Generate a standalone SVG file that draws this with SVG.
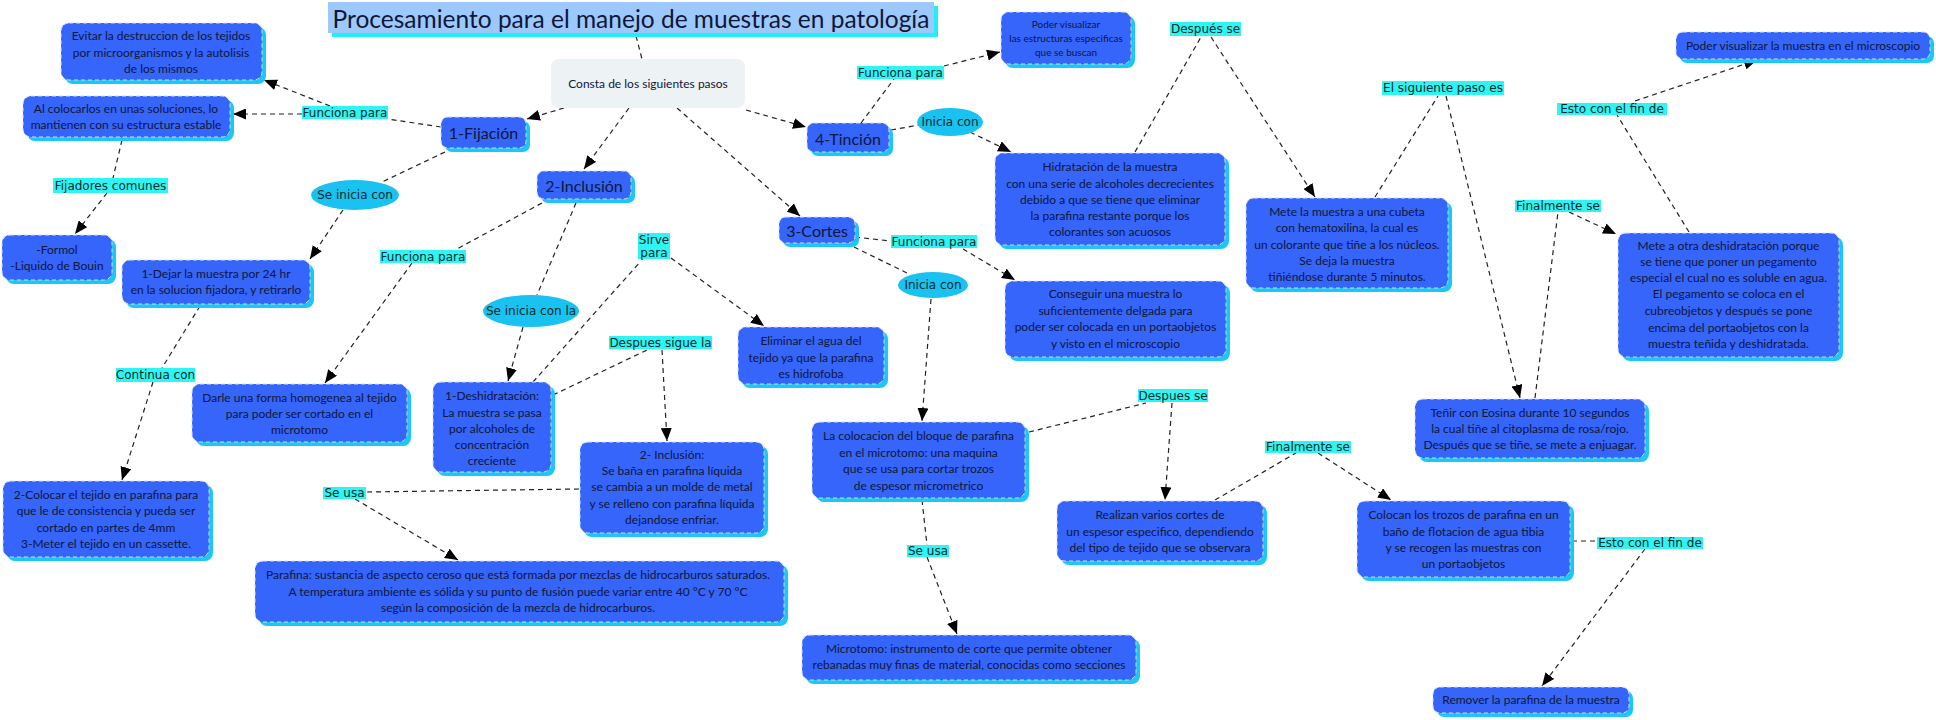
<svg xmlns="http://www.w3.org/2000/svg" width="1936" height="720" viewBox="0 0 1936 720">
<style>
.sh{fill:#1cc6f6}
.bx{fill:#3565fb;stroke:#d4defc;stroke-width:1;stroke-dasharray:4,3}
.t{font-family:Lato,"Open Sans",sans-serif;font-size:12px;fill:#0f1738;text-anchor:middle;dominant-baseline:central}
.ts{font-size:10px}
.th{font-size:16px}
.lb{fill:#2ef5f3}
.lt{font-family:"DejaVu Sans",Verdana,sans-serif;font-size:12px;fill:#062a2a;text-anchor:middle;dominant-baseline:central}
.el{fill:#19c2f0}
.c line{stroke:#222;stroke-width:1.2;stroke-dasharray:5,4;fill:none}
.c line.a{marker-end:url(#ah)}
</style>
<defs>
<marker id="ah" markerUnits="userSpaceOnUse" markerWidth="13" markerHeight="11" refX="13" refY="5.5" orient="auto">
<path d="M0,0 L13,5.5 L0,11 z" fill="#000"/>
</marker>
</defs>
<rect width="1936" height="720" fill="#fff"/>

<g id="connectors" class="c">
<line x1="636" y1="36" x2="642" y2="59"/>
<line class="a" x1="564" y1="108" x2="527" y2="119"/>
<line class="a" x1="629" y1="108" x2="584" y2="169"/>
<line class="a" x1="677" y1="108" x2="800" y2="216"/>
<line class="a" x1="746" y1="110" x2="806" y2="127"/>
<line x1="441" y1="127" x2="388" y2="119"/>
<line class="a" x1="302" y1="114" x2="233" y2="114"/>
<line class="a" x1="330" y1="106" x2="264" y2="80"/>
<line x1="122" y1="140" x2="113" y2="178"/>
<line class="a" x1="107" y1="193" x2="75" y2="234"/>
<line x1="445" y1="152" x2="382" y2="182"/>
<line class="a" x1="343" y1="210" x2="310" y2="259"/>
<line x1="200" y1="306" x2="162" y2="368"/>
<line class="a" x1="153" y1="382" x2="122" y2="480"/>
<line x1="542" y1="203" x2="455" y2="250"/>
<line class="a" x1="412" y1="263" x2="325" y2="383"/>
<line x1="576" y1="203" x2="537" y2="295"/>
<line class="a" x1="523" y1="327" x2="508" y2="381"/>
<line x1="533" y1="382" x2="641" y2="261"/>
<line class="a" x1="671" y1="258" x2="764" y2="326"/>
<line x1="553" y1="395" x2="647" y2="350"/>
<line class="a" x1="662" y1="350" x2="667" y2="441"/>
<line x1="579" y1="489" x2="366" y2="492"/>
<line class="a" x1="355" y1="499" x2="458" y2="560"/>
<line x1="855" y1="237" x2="891" y2="241"/>
<line class="a" x1="963" y1="249" x2="1015" y2="280"/>
<line x1="854" y1="247" x2="907" y2="273"/>
<line class="a" x1="931" y1="299" x2="922" y2="421"/>
<line x1="1029" y1="432" x2="1146" y2="403"/>
<line class="a" x1="1172" y1="403" x2="1165" y2="500"/>
<line x1="922" y1="500" x2="927" y2="545"/>
<line class="a" x1="927" y1="557" x2="957" y2="634"/>
<line x1="1215" y1="500" x2="1296" y2="453"/>
<line class="a" x1="1318" y1="453" x2="1391" y2="500"/>
<line x1="1572" y1="541" x2="1597" y2="541"/>
<line class="a" x1="1645" y1="549" x2="1542" y2="686"/>
<line x1="861" y1="123" x2="894" y2="79"/>
<line class="a" x1="944" y1="66" x2="1000" y2="52"/>
<line x1="891" y1="130" x2="919" y2="125"/>
<line class="a" x1="970" y1="132" x2="1011" y2="152"/>
<line x1="1135" y1="152" x2="1201" y2="37"/>
<line class="a" x1="1211" y1="37" x2="1315" y2="197"/>
<line x1="1375" y1="197" x2="1438" y2="96"/>
<line class="a" x1="1446" y1="96" x2="1520" y2="398"/>
<line x1="1535" y1="398" x2="1558" y2="212"/>
<line class="a" x1="1569" y1="212" x2="1616" y2="234"/>
<line x1="1689" y1="232" x2="1617" y2="115"/>
<line class="a" x1="1635" y1="101" x2="1757" y2="60"/>
</g>

<g id="title">
<rect x="332" y="6" width="606" height="31" fill="#1ff0f5"/>
<rect x="328" y="2" width="606" height="31" fill="#9cc8fb"/>
<text x="631" y="18" class="t" style="font-size:24.5px">Procesamiento para el manejo de muestras en patología</text>
</g>

<g id="consta">
<rect x="551" y="59" width="194" height="49" rx="8" fill="#edf2f5"/>
<text x="648" y="83" class="t">Consta de los siguientes pasos</text>
</g>

<g id="evitar">
<rect class="sh" x="65" y="27" width="201" height="57" rx="8"/>
<rect class="bx" x="61" y="23" width="201" height="57" rx="8"/>
<text class="t"><tspan x="161" y="35">Evitar la destruccion de los tejidos</tspan><tspan x="161" y="52">por microorganismos y la autolisis</tspan><tspan x="161" y="68">de los mismos</tspan></text>
</g>

<g id="colocarlos">
<rect class="sh" x="27" y="100" width="207" height="41" rx="8"/>
<rect class="bx" x="23" y="96" width="207" height="41" rx="8"/>
<text class="t"><tspan x="126" y="108">Al colocarlos en unas soluciones, lo</tspan><tspan x="126" y="124">mantienen con su estructura estable</tspan></text>
</g>

<g id="fijacion">
<rect class="sh" x="445" y="121" width="85" height="31" rx="7"/>
<rect class="bx" x="441" y="117" width="85" height="31" rx="7"/>
<text x="483.5" y="132.5" class="t th">1-Fijación</text>
</g>

<g id="formol">
<rect class="sh" x="6" y="239" width="110" height="45" rx="8"/>
<rect class="bx" x="2" y="235" width="110" height="45" rx="8"/>
<text class="t"><tspan x="57" y="249">-Formol</tspan><tspan x="57" y="265">-Liquido de Bouin</tspan></text>
</g>

<g id="dejar">
<rect class="sh" x="126" y="264" width="188" height="44" rx="8"/>
<rect class="bx" x="122" y="260" width="188" height="44" rx="8"/>
<text class="t"><tspan x="216" y="273">1-Dejar la muestra por 24 hr</tspan><tspan x="216" y="289">en la solucion fijadora, y retirarlo</tspan></text>
</g>

<g id="darle">
<rect class="sh" x="196" y="388" width="215" height="58" rx="8"/>
<rect class="bx" x="192" y="384" width="215" height="58" rx="8"/>
<text class="t"><tspan x="299.5" y="397">Darle una forma homogenea al tejido</tspan><tspan x="299.5" y="413">para poder ser cortado en el</tspan><tspan x="299.5" y="429">microtomo</tspan></text>
</g>

<g id="deshidratacion">
<rect class="sh" x="437" y="386" width="118" height="90" rx="8"/>
<rect class="bx" x="433" y="382" width="118" height="90" rx="8"/>
<text class="t"><tspan x="492" y="395">1-Deshidratación:</tspan><tspan x="492" y="412">La muestra se pasa</tspan><tspan x="492" y="428">por alcoholes de</tspan><tspan x="492" y="444">concentración</tspan><tspan x="492" y="460">creciente</tspan></text>
</g>

<g id="colocar">
<rect class="sh" x="7" y="485" width="206" height="76" rx="8"/>
<rect class="bx" x="3" y="481" width="206" height="76" rx="8"/>
<text class="t"><tspan x="106" y="494">2-Colocar el tejido en parafina para</tspan><tspan x="106" y="510">que le de consistencia y pueda ser</tspan><tspan x="106" y="527">cortado en partes de 4mm</tspan><tspan x="106" y="543">3-Meter el tejido en un cassette.</tspan></text>
</g>

<g id="parafina">
<rect class="sh" x="259" y="565" width="529" height="61" rx="8"/>
<rect class="bx" x="255" y="561" width="529" height="61" rx="8"/>
<text class="t"><tspan x="518" y="574">Parafina: sustancia de aspecto ceroso que está formada por mezclas de hidrocarburos saturados.</tspan><tspan x="518" y="591">A temperatura ambiente es sólida y su punto de fusión puede variar entre 40 °C y 70 °C</tspan><tspan x="518" y="607">según la composición de la mezcla de hidrocarburos.</tspan></text>
</g>

<g id="inclusion">
<rect class="sh" x="541" y="175" width="94" height="28" rx="7"/>
<rect class="bx" x="537" y="171" width="94" height="28" rx="7"/>
<text x="584" y="185" class="t th">2-Inclusión</text>
</g>

<g id="cortes">
<rect class="sh" x="783" y="221" width="76" height="26" rx="7"/>
<rect class="bx" x="779" y="217" width="76" height="26" rx="7"/>
<text x="817" y="230" class="t th">3-Cortes</text>
</g>

<g id="tincion">
<rect class="sh" x="811" y="127" width="82" height="29" rx="7"/>
<rect class="bx" x="807" y="123" width="82" height="29" rx="7"/>
<text x="848" y="138" class="t th">4-Tinción</text>
</g>

<g id="eliminar">
<rect class="sh" x="742" y="331" width="146" height="57" rx="8"/>
<rect class="bx" x="738" y="327" width="146" height="57" rx="8"/>
<text class="t"><tspan x="811" y="340">Eliminar el agua del</tspan><tspan x="811" y="357">tejido ya que la parafina</tspan><tspan x="811" y="373">es hidrofoba</tspan></text>
</g>

<g id="inclusion2">
<rect class="sh" x="584" y="446" width="184" height="91" rx="8"/>
<rect class="bx" x="580" y="442" width="184" height="91" rx="8"/>
<text class="t"><tspan x="672" y="454">2- Inclusión:</tspan><tspan x="672" y="470">Se baña en parafina líquida</tspan><tspan x="672" y="486">se cambia a un molde de metal</tspan><tspan x="672" y="503">y se relleno con parafina líquida</tspan><tspan x="672" y="519">dejandose enfriar.</tspan></text>
</g>

<g id="colocacion">
<rect class="sh" x="816" y="426" width="213" height="76" rx="8"/>
<rect class="bx" x="812" y="422" width="213" height="76" rx="8"/>
<text class="t"><tspan x="918.5" y="435">La colocacion del bloque de parafina</tspan><tspan x="918.5" y="452">en el microtomo: una maquina</tspan><tspan x="918.5" y="468">que se usa para cortar trozos</tspan><tspan x="918.5" y="485">de espesor micrometrico</tspan></text>
</g>

<g id="poder1">
<rect class="sh" x="1005" y="16" width="130" height="52" rx="8"/>
<rect class="bx" x="1001" y="12" width="130" height="52" rx="8"/>
<text class="t ts"><tspan x="1066" y="24">Poder visualizar</tspan><tspan x="1066" y="38">las estructuras especificas</tspan><tspan x="1066" y="52">que se buscan</tspan></text>
</g>

<g id="hidratacion">
<rect class="sh" x="999" y="157" width="230" height="92" rx="8"/>
<rect class="bx" x="995" y="153" width="230" height="92" rx="8"/>
<text class="t"><tspan x="1110" y="166">Hidratación de la muestra</tspan><tspan x="1110" y="183">con una serie de alcoholes decrecientes</tspan><tspan x="1110" y="199">debido a que se tiene que eliminar</tspan><tspan x="1110" y="215">la parafina restante porque los</tspan><tspan x="1110" y="231">colorantes son acuosos</tspan></text>
</g>

<g id="mete">
<rect class="sh" x="1250" y="202" width="202" height="90" rx="8"/>
<rect class="bx" x="1246" y="198" width="202" height="90" rx="8"/>
<text class="t"><tspan x="1347" y="211">Mete la muestra a una cubeta</tspan><tspan x="1347" y="227">con hematoxilina, la cual es</tspan><tspan x="1347" y="244">un colorante que tiñe a los núcleos.</tspan><tspan x="1347" y="260">Se deja la muestra</tspan><tspan x="1347" y="276">tiñiéndose durante 5 minutos.</tspan></text>
</g>

<g id="conseguir">
<rect class="sh" x="1009" y="285" width="221" height="76" rx="8"/>
<rect class="bx" x="1005" y="281" width="221" height="76" rx="8"/>
<text class="t"><tspan x="1115.5" y="293">Conseguir una muestra lo</tspan><tspan x="1115.5" y="310">suficientemente delgada para</tspan><tspan x="1115.5" y="326">poder ser colocada en un portaobjetos</tspan><tspan x="1115.5" y="343">y visto en el microscopio</tspan></text>
</g>

<g id="realizan">
<rect class="sh" x="1061" y="505" width="206" height="60" rx="8"/>
<rect class="bx" x="1057" y="501" width="206" height="60" rx="8"/>
<text class="t"><tspan x="1160" y="514">Realizan varios cortes de</tspan><tspan x="1160" y="531">un espesor especifico, dependiendo</tspan><tspan x="1160" y="547">del tipo de tejido que se observara</tspan></text>
</g>

<g id="colocan">
<rect class="sh" x="1361" y="505" width="213" height="76" rx="8"/>
<rect class="bx" x="1357" y="501" width="213" height="76" rx="8"/>
<text class="t"><tspan x="1463.5" y="514">Colocan los trozos de parafina en un</tspan><tspan x="1463.5" y="531">baño de flotacion de agua tibia</tspan><tspan x="1463.5" y="547">y se recogen las muestras con</tspan><tspan x="1463.5" y="563">un portaobjetos</tspan></text>
</g>

<g id="microtomo">
<rect class="sh" x="806" y="639" width="334" height="45" rx="8"/>
<rect class="bx" x="802" y="635" width="334" height="45" rx="8"/>
<text class="t"><tspan x="969" y="648">Microtomo: instrumento de corte que permite obtener</tspan><tspan x="969" y="664">rebanadas muy finas de material, conocidas como secciones</tspan></text>
</g>

<g id="remover">
<rect class="sh" x="1437" y="691" width="196" height="26" rx="7"/>
<rect class="bx" x="1433" y="687" width="196" height="26" rx="7"/>
<text x="1531" y="699.5" class="t">Remover la parafina de la muestra</text>
</g>

<g id="tenir">
<rect class="sh" x="1419" y="403" width="230" height="59" rx="8"/>
<rect class="bx" x="1415" y="399" width="230" height="59" rx="8"/>
<text class="t"><tspan x="1530" y="412">Teñir con Eosina durante 10 segundos</tspan><tspan x="1530" y="428">la cual tiñe al citoplasma de rosa/rojo.</tspan><tspan x="1530" y="444">Después que se tiñe, se mete a enjuagar.</tspan></text>
</g>

<g id="meteotra">
<rect class="sh" x="1622" y="237" width="221" height="124" rx="8"/>
<rect class="bx" x="1618" y="233" width="221" height="124" rx="8"/>
<text class="t"><tspan x="1728.5" y="245">Mete a otra deshidratación porque</tspan><tspan x="1728.5" y="261">se tiene que poner un pegamento</tspan><tspan x="1728.5" y="277">especial el cual no es soluble en agua.</tspan><tspan x="1728.5" y="293">El pegamento se coloca en el</tspan><tspan x="1728.5" y="310">cubreobjetos y después se pone</tspan><tspan x="1728.5" y="327">encima del portaobjetos con la</tspan><tspan x="1728.5" y="343">muestra teñida y deshidratada.</tspan></text>
</g>

<g id="poder2">
<rect class="sh" x="1680" y="36" width="254" height="27" rx="7"/>
<rect class="bx" x="1676" y="32" width="254" height="27" rx="7"/>
<text x="1803" y="45" class="t">Poder visualizar la muestra en el microscopio</text>
</g>

<g id="lbl-funciona1"><rect class="lb" x="302" y="106" width="86" height="13"/><text x="345" y="112.5" class="lt">Funciona para</text></g>
<g id="lbl-fijadores"><rect class="lb" x="53" y="178" width="115" height="15"/><text x="110.5" y="185.5" class="lt">Fijadores comunes</text></g>
<g id="lbl-funciona2"><rect class="lb" x="380" y="250" width="86" height="13"/><text x="423" y="256.5" class="lt">Funciona para</text></g>
<g id="lbl-continua"><rect class="lb" x="116" y="368" width="79" height="14"/><text x="155.5" y="375" class="lt">Continua con</text></g>
<g id="lbl-sirve"><rect class="lb" x="638" y="233" width="32" height="26"/><text class="lt"><tspan x="654" y="240">Sirve</tspan><tspan x="654" y="252.5">para</tspan></text></g>
<g id="lbl-despuessigue"><rect class="lb" x="609" y="336" width="103" height="13"/><text x="660.5" y="342.5" class="lt">Despues sigue la</text></g>
<g id="lbl-seusa1"><rect class="lb" x="323" y="487" width="43" height="12"/><text x="344.5" y="493" class="lt">Se usa</text></g>
<g id="lbl-funciona3"><rect class="lb" x="891" y="235" width="86" height="13"/><text x="934" y="241.5" class="lt">Funciona para</text></g>
<g id="lbl-despuesse"><rect class="lb" x="1138" y="389" width="70" height="13"/><text x="1173" y="395.5" class="lt">Despues se</text></g>
<g id="lbl-finalmente1"><rect class="lb" x="1265" y="441" width="86" height="12"/><text x="1308" y="447" class="lt">Finalmente se</text></g>
<g id="lbl-seusa2"><rect class="lb" x="907" y="545" width="42" height="12"/><text x="928" y="551" class="lt">Se usa</text></g>
<g id="lbl-esto1"><rect class="lb" x="1597" y="537" width="106" height="12"/><text x="1650" y="543" class="lt">Esto con el fin de</text></g>
<g id="lbl-funciona4"><rect class="lb" x="857" y="66" width="87" height="13"/><text x="900.5" y="72.5" class="lt">Funciona para</text></g>
<g id="lbl-despuesse2"><rect class="lb" x="1170" y="22" width="71" height="14"/><text x="1205.5" y="29" class="lt">Después se</text></g>
<g id="lbl-siguiente"><rect class="lb" x="1382" y="81" width="122" height="14"/><text x="1443" y="88" class="lt">El siguiente paso es</text></g>
<g id="lbl-finalmente2"><rect class="lb" x="1515" y="200" width="86" height="12"/><text x="1558" y="206" class="lt">Finalmente se</text></g>
<g id="lbl-esto2"><rect class="lb" x="1557" y="103" width="110" height="12"/><text x="1612" y="109" class="lt">Esto con el fin de </text></g>

<g id="ell-seinicia"><ellipse class="el" cx="355" cy="195" rx="44" ry="15"/><text x="355" y="195" class="lt">Se inicia con</text></g>
<g id="ell-seiniciala"><ellipse class="el" cx="531" cy="311" rx="48" ry="16"/><text x="531" y="311" class="lt">Se inicia con la</text></g>
<g id="ell-iniciacon1"><ellipse class="el" cx="933" cy="285" rx="35" ry="13"/><text x="933" y="285" class="lt">Inicia con</text></g>
<g id="ell-iniciacon2"><ellipse class="el" cx="950" cy="122" rx="33" ry="14"/><text x="950" y="122" class="lt">Inicia con</text></g>
</svg>
